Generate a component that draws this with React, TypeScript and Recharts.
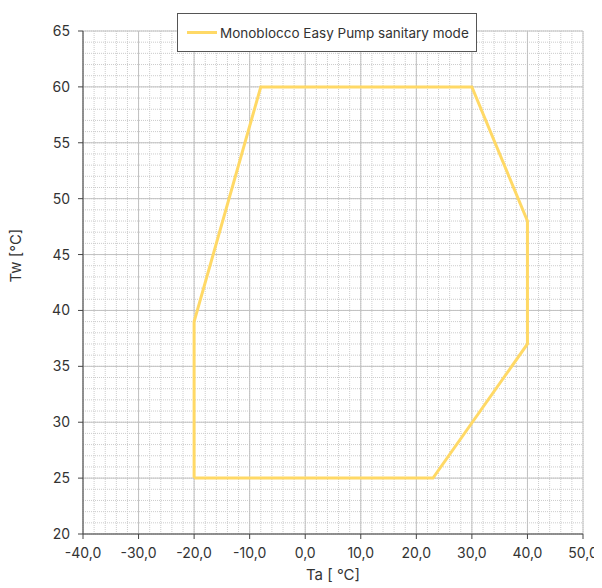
import React from 'react';
import {
  LineChart,
  Line,
  XAxis,
  YAxis,
  CartesianGrid,
} from 'recharts';

// operating envelope, closed polygon (Ta, Tw)
const taValues = [-20, 23, 40, 40, 30, -8, -20, -20];
const twValues = [25, 25, 37, 48, 60, 60, 39, 25];

const xTicks = [-40, -30, -20, -10, 0, 10, 20, 30, 40, 50];
const yTicks = [20, 25, 30, 35, 40, 45, 50, 55, 60, 65];
const xMinorTicks = [
  -40, -38, -36, -34, -32, -30, -28, -26, -24, -22, -20, -18, -16, -14, -12, -10, -8, -6, -4, -2,
  0, 2, 4, 6, 8, 10, 12, 14, 16, 18, 20, 22, 24, 26, 28, 30, 32, 34, 36, 38, 40, 42, 44, 46, 48, 50,
];
const yMinorTicks = [
  20, 21, 22, 23, 24, 25, 26, 27, 28, 29, 30, 31, 32, 33, 34, 35, 36, 37, 38, 39, 40, 41, 42, 43,
  44, 45, 46, 47, 48, 49, 50, 51, 52, 53, 54, 55, 56, 57, 58, 59, 60, 61, 62, 63, 64, 65,
];

const seriesName = 'Monoblocco Easy Pump sanitary mode';
const lineColor = '#FFD966';
const font = 'Inter, "Noto Sans", sans-serif';

const data = taValues.map((ta, i) => ({ ta, tw: twValues[i] }));

const LegendBox = () => (
  <div
    style={{
      position: 'absolute',
      left: 169,
      top: 5,
      width: 298,
      height: 37,
      border: '1px solid #555',
      background: '#fff',
      display: 'flex',
      alignItems: 'center',
      fontFamily: font,
      fontSize: 13.5,
      color: '#333',
    }}
  >
    <span
      style={{
        display: 'inline-block',
        width: 30,
        height: 3,
        background: lineColor,
        marginLeft: 9,
        marginRight: 3,
      }}
    />
    {seriesName}
  </div>
);

export default function App() {
  return (
    <div style={{ position: 'relative', width: 594, height: 580 }}>
      <LineChart
        width={594}
        height={580}
        data={data}
        margin={{ top: 23, right: 19, bottom: 0, left: 0 }}
        style={{ fontFamily: font }}
      >
        <XAxis
          xAxisId="minor"
          dataKey="ta"
          type="number"
          domain={[-40, 50]}
          ticks={xMinorTicks}
          interval={0}
          hide
        />
        <YAxis
          yAxisId="minor"
          dataKey="tw"
          type="number"
          domain={[20, 65]}
          ticks={yMinorTicks}
          interval={0}
          hide
        />
        <CartesianGrid
          xAxisId="minor"
          yAxisId="minor"
          stroke="#cccccc"
          strokeDasharray="1 1"
        />
        <CartesianGrid stroke="#c2c2c2" />
        <XAxis
          dataKey="ta"
          type="number"
          domain={[-40, 50]}
          ticks={xTicks}
          interval={0}
          tickFormatter={(v: number) => v.toFixed(1).replace('.', ',')}
          height={54}
          tickSize={5}
          tickMargin={9}
          stroke="#444"
          tick={{ fill: '#333', fontSize: 14 }}
          label={{ value: 'Ta [ °C]', position: 'insideBottom', offset: 8, fill: '#333', fontSize: 15 }}
        />
        <YAxis
          dataKey="tw"
          type="number"
          domain={[20, 65]}
          ticks={yTicks}
          interval={0}
          width={75}
          tickSize={5}
          tickMargin={8}
          stroke="#444"
          tick={{ fill: '#333', fontSize: 14 }}
          label={{ value: 'Tw [°C]', angle: -90, position: 'insideLeft', offset: 8, fill: '#333', fontSize: 15 }}
        />
        <Line
          dataKey="tw"
          name={seriesName}
          stroke={lineColor}
          strokeWidth={3}
          dot={false}
          isAnimationActive={false}
        />
      </LineChart>
      <LegendBox />
    </div>
  );
}
